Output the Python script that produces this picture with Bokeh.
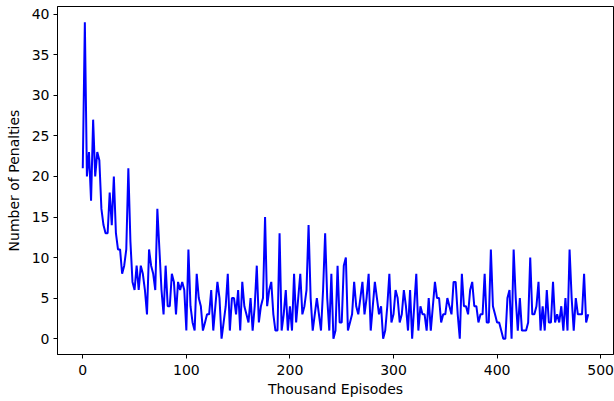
from bokeh.plotting import figure
from bokeh.models import Range1d, FixedTicker
from bokeh.embed import file_html
from bokeh.resources import INLINE

# Thousand episodes (every 2k) and the penalties
episodes = list(range(0, 489, 2))
penalties = [
    21, 39, 20, 23, 17, 27, 20, 23, 22, 16,
    14, 13, 13, 18, 14, 20, 13, 11, 11, 8,
    9, 11, 21, 12, 7, 6, 9, 6, 9, 8,
    6, 3, 11, 9, 8, 6, 16, 11, 6, 3,
    9, 4, 4, 8, 7, 3, 7, 6, 7, 6,
    1, 11, 4, 2, 1, 8, 5, 4, 1, 2,
    3, 3, 6, 1, 4, 7, 5, 0, 2, 4,
    8, 1, 5, 5, 3, 6, 1, 7, 4, 3,
    2, 5, 1, 4, 9, 2, 4, 5, 15, 4,
    6, 7, 3, 1, 1, 13, 1, 3, 6, 1,
    4, 1, 8, 2, 5, 8, 3, 4, 6, 14,
    5, 1, 3, 5, 3, 1, 6, 13, 5, 1,
    8, 0, 1, 9, 2, 2, 9, 10, 1, 2,
    3, 7, 4, 3, 5, 7, 3, 5, 8, 1,
    4, 7, 5, 3, 4, 0, 1, 4, 8, 2,
    3, 6, 5, 2, 3, 6, 4, 1, 6, 0,
    4, 8, 1, 4, 3, 3, 1, 5, 1, 4,
    7, 5, 5, 2, 3, 3, 5, 4, 3, 7,
    7, 3, 0, 8, 4, 4, 3, 6, 7, 4,
    4, 2, 3, 3, 8, 2, 2, 11, 4, 3,
    2, 2, 1, 0, 0, 5, 6, 0, 11, 5,
    1, 5, 1, 1, 1, 2, 10, 3, 3, 4,
    7, 1, 4, 1, 6, 2, 2, 7, 2, 3,
    2, 4, 1, 5, 1, 11, 5, 1, 5, 3,
    3, 3, 8, 2, 3,
]
x_ticks = [0, 100, 200, 300, 400, 500]
y_ticks = [0, 5, 10, 15, 20, 25, 30, 35, 40]

FONT = "DejaVu Sans"

p = figure(width=614, height=401, output_backend="svg", toolbar_location=None,
           x_range=Range1d(-24.4, 512.4), y_range=Range1d(-1.95, 40.95),
           min_border_left=57, min_border_right=1, min_border_top=6,
           min_border_bottom=47)

p.line(episodes, penalties, line_color="#0000ff", line_width=2)

p.xgrid.visible = False
p.ygrid.visible = False
p.outline_line_color = "black"
p.outline_line_width = 1
p.background_fill_color = "white"
p.border_fill_color = "white"

p.xaxis.ticker = FixedTicker(ticks=x_ticks)
p.yaxis.ticker = FixedTicker(ticks=y_ticks)
p.xaxis.axis_label = "Thousand Episodes"
p.yaxis.axis_label = "Number of Penalties"

for ax in (p.xaxis, p.yaxis):
    ax.axis_line_color = "black"
    ax.major_tick_line_color = "black"
    ax.major_tick_out = 4
    ax.major_tick_in = 0
    ax.minor_tick_line_color = None
    ax.major_label_text_font = FONT
    ax.major_label_text_font_size = "14px"
    ax.major_label_text_color = "black"
    ax.axis_label_text_font = FONT
    ax.axis_label_text_font_size = "14px"
    ax.axis_label_text_font_style = "normal"
    ax.axis_label_text_color = "black"

p.xaxis.axis_label_standoff = 3
p.yaxis.axis_label_standoff = 7
p.xaxis.major_label_standoff = 6
p.yaxis.major_label_standoff = 4

open("out.html", "w").write(file_html(p, INLINE))
